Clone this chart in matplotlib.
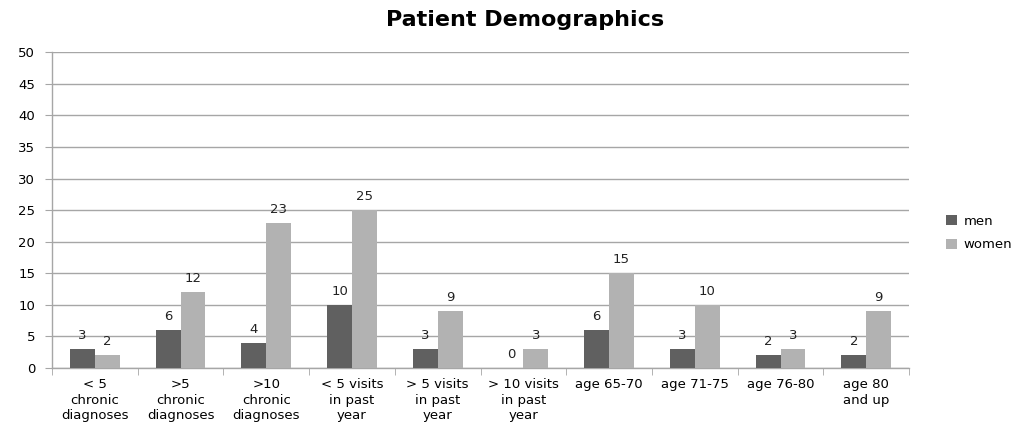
import matplotlib
matplotlib.use("Agg")
import matplotlib.pyplot as plt
import numpy as np

categories = ["< 5\nchronic\ndiagnoses", ">5\nchronic\ndiagnoses", ">10\nchronic\ndiagnoses",
              "< 5 visits\nin past\nyear", "> 5 visits\nin past\nyear", "> 10 visits\nin past\nyear",
              "age 65-70", "age 71-75", "age 76-80", "age 80\nand up"]
men = [3, 6, 4, 10, 3, 0, 6, 3, 2, 2]
women = [2, 12, 23, 25, 9, 3, 15, 10, 3, 9]

men_color = "#606060"
women_color = "#b2b2b2"
grid_color = "#a6a6a6"
fs = 9.5

fig = plt.figure(figsize=(10.29, 4.24), dpi=100)
ax = fig.add_axes([0.0505, 0.132, 0.833, 0.745])

x = np.arange(len(categories))
w = 0.29
b1 = ax.bar(x - w / 2, men, w, color=men_color, label="men", zorder=3)
b2 = ax.bar(x + w / 2, women, w, color=women_color, label="women", zorder=3)

for bars, vals in ((b1, men), (b2, women)):
    for rect, v in zip(bars, vals):
        ax.text(rect.get_x() + rect.get_width() / 2, v + 1.1, str(v),
                ha="center", va="bottom", fontsize=fs, color="#222222")

ax.set_xlim(-0.5, len(categories) - 0.5)
ax.set_ylim(0, 50)
ax.set_yticks(range(0, 51, 5))
ax.yaxis.grid(True, color=grid_color, linewidth=1.0, zorder=0)
ax.tick_params(axis="y", length=5, color=grid_color, labelsize=fs, pad=7)

ax.set_xticks(x)
ax.set_xticklabels(categories, fontsize=fs, linespacing=1.28)
ax.tick_params(axis="x", which="major", length=0, pad=7)
ax.set_xticks(np.arange(-0.5, len(categories)), minor=True)
ax.tick_params(axis="x", which="minor", length=5, color=grid_color)

for side in ("top", "right"):
    ax.spines[side].set_visible(False)
for side in ("left", "bottom"):
    ax.spines[side].set_color(grid_color)
    ax.spines[side].set_linewidth(1.0)

fig.text(0.51, 0.952, "Patient Demographics", ha="center", va="center",
         fontsize=16, fontweight="bold")

fig.legend(handles=[b1, b2], labels=["men", "women"], loc="center left",
           bbox_to_anchor=(0.908, 0.45), frameon=False, fontsize=fs,
           handlelength=0.8, handleheight=0.8, handletextpad=0.5, labelspacing=0.8)

fig.savefig("out.png", dpi=100)
